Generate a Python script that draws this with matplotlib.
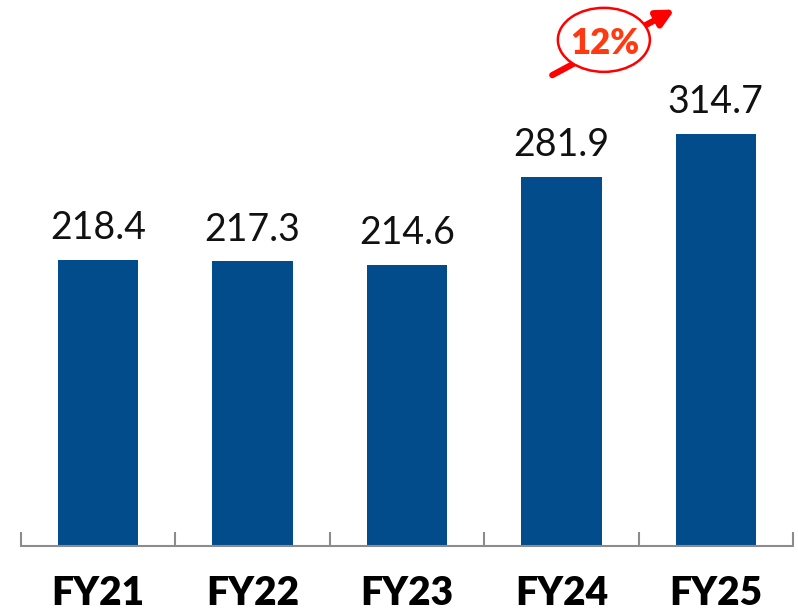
import matplotlib.pyplot as plt
from matplotlib.patches import Ellipse

years = ["FY21", "FY22", "FY23", "FY24", "FY25"]
values = [218.4, 217.3, 214.6, 281.9, 314.7]
growth = "12%"

plt.rcParams['font.family'] = ['Lato', 'DejaVu Sans']

fig = plt.figure(figsize=(7.98, 6.13), dpi=100)
ax = fig.add_axes([21 / 798, 67 / 613, 772 / 798, 546 / 613])

x = range(len(years))
ax.bar(x, values, width=0.52, color="#024C8C")
for i, v in enumerate(values):
    ax.annotate(f"{v:.1f}", (i, v), xytext=(0, 10), textcoords="offset points",
                ha="center", va="bottom", fontsize=27, color="#111111")

ax.set_xlim(-0.5, len(years) - 0.5)
ax.set_ylim(0, 417)
ax.set_yticks([])
for s in ["top", "right", "left"]:
    ax.spines[s].set_visible(False)
ax.spines["bottom"].set_color("#8c8c8c")
ax.spines["bottom"].set_linewidth(1.5)

# category separator ticks pointing up
ax.set_xticks([i - 0.5 for i in range(len(years) + 1)], minor=True)
ax.tick_params(axis="x", which="minor", direction="in", length=10, width=1.5, color="#8c8c8c")
ax.set_xticks(list(x))
ax.set_xticklabels(years, fontsize=28, fontweight="heavy")
ax.tick_params(axis="x", which="major", length=0, pad=21)

# growth arrow with ellipse
ax.annotate("", xy=(0.85, 0.985), xytext=(0.685, 0.86), xycoords="axes fraction",
            arrowprops=dict(arrowstyle="-|>,head_length=1.0,head_width=0.5", color="red", lw=4.5),
            annotation_clip=False)
ax.add_patch(Ellipse((0.755, 0.927), 92 / 772, 64 / 546, transform=ax.transAxes,
                     facecolor="white", edgecolor="red", lw=1.8, clip_on=False, zorder=5))
ax.text(0.756, 0.921, growth, transform=ax.transAxes, ha="center", va="center",
        fontsize=25, fontweight="heavy", color="#FF3A12", zorder=6)

fig.savefig("out.png", dpi=100)
